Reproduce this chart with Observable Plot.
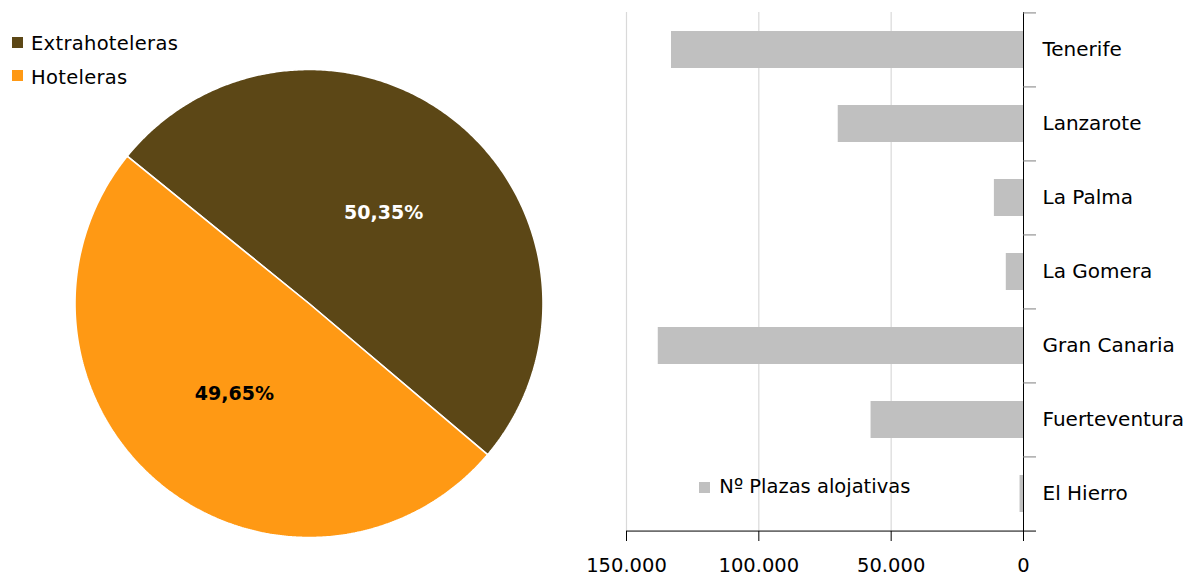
<!DOCTYPE html>
<html><head><meta charset="utf-8">
<script src="https://cdn.jsdelivr.net/npm/d3@7"></script>
<script src="https://cdn.jsdelivr.net/npm/@observablehq/plot@0.6"></script>
<style>
body{margin:0;background:#fff;font-family:"DejaVu Sans",sans-serif;}
#wrap{position:relative;width:1191px;height:576px;overflow:hidden;background:#fff}
.abs{position:absolute;top:0}
.sw{position:absolute;width:11px;height:11px}
.lt{position:absolute;white-space:nowrap;color:#000;font-family:"DejaVu Sans",sans-serif}
</style></head><body>
<div id="wrap">
 <div id="pie" class="abs" style="left:0"></div>
 <div id="bars" class="abs" style="left:560px"></div>
 <div id="legends"></div>
</div>
<script>
// ---- data ----
const pieCategories = ["Extrahoteleras", "Hoteleras"];
const pieValues = [50.35, 49.65];
const pieColors = ["#5C4716", "#FF9914"];

const islands = ["Tenerife", "Lanzarote", "La Palma", "La Gomera", "Gran Canaria", "Fuerteventura", "El Hierro"];
const plazas = [133000, 70000, 11000, 6500, 138000, 57600, 1300];
const barSeries = "Nº Plazas alojativas";
const barColor = "#C0C0C0";
const xTicks = [0, 50000, 100000, 150000];

// ---- pie geometry (unit circle) ----
const startDeg = -51;
const a0 = startDeg * Math.PI / 180;
const arcs = d3.pie().sort(null).startAngle(a0).endAngle(a0 + 2 * Math.PI)(pieValues);
const piePts = [];
arcs.forEach((a, i) => {
  const name = pieCategories[i];
  const n = Math.ceil((a.endAngle - a.startAngle) / (Math.PI / 360));
  piePts.push({name, x: 0, y: 0});
  for (let k = 0; k <= n; k++) {
    const t = a.startAngle + (a.endAngle - a.startAngle) * k / n;
    piePts.push({name, x: Math.sin(t), y: Math.cos(t)});
  }
  piePts.push({name, x: 0, y: 0});
});
const pieLabels = arcs.map((a, i) => {
  const m = (a.startAngle + a.endAngle) / 2;
  return {x: 0.5 * Math.sin(m), y: 0.5 * Math.cos(m),
          text: pieValues[i].toFixed(2).replace(".", ",") + "%", dark: i === 0};
});

const piePlot = Plot.plot({
  width: 560, height: 576,
  marginLeft: 74.5, marginRight: 17.5, marginTop: 69, marginBottom: 39,
  x: {domain: [-1, 1], axis: null},
  y: {domain: [-1, 1], axis: null},
  color: {domain: pieCategories, range: pieColors},
  style: {fontFamily: "DejaVu Sans", background: "transparent"},
  marks: [
    Plot.line(piePts, {x: "x", y: "y", z: "name", fill: "name", stroke: "white", strokeWidth: 1.6, strokeLinejoin: "miter"}),
    Plot.text(pieLabels, {filter: d => d.dark, x: "x", y: "y", text: "text", fill: "white", fontSize: 19, fontWeight: "bold"}),
    Plot.text(pieLabels, {filter: d => !d.dark, x: "x", y: "y", text: "text", fill: "black", fontSize: 19, fontWeight: "bold"})
  ]
});
document.getElementById("pie").appendChild(piePlot);

// ---- bars ----
const barData = islands.map((name, i) => ({name, value: plazas[i]}));
const H = 576, mT = 12, mB = 45;
const step = (H - mT - mB) / islands.length;
const loc = d3.formatLocale({decimal: ",", thousands: ".", grouping: [3], currency: ["", ""]});
const fmt = loc.format(",");

const barPlot = Plot.plot({
  width: 631, height: H,
  marginLeft: 66, marginRight: 168, marginTop: mT, marginBottom: mB,
  x: {domain: [0, 150000], reverse: true, label: null, axis: null},
  y: {domain: islands, paddingInner: 0.5, paddingOuter: 0.25, label: null, axis: null},
  style: {fontFamily: "DejaVu Sans", fontSize: "20px", color: "#000", background: "transparent"},
  marks: [
    Plot.ruleX(xTicks.filter(d => d > 0), {stroke: "#d9d9d9", strokeWidth: 1.2}),
    Plot.barX(barData, {x: "value", y: "name", fill: barColor}),
    Plot.ruleX([0], {stroke: "#000"}),
    Plot.ruleY(islands, {y: d => d, x1: 0, x2: 0, insetRight: -13, dy: -step / 2, stroke: "#7f7f7f"}),
    Plot.ruleY([islands[islands.length - 1]], {y: d => d, dy: step / 2, insetRight: -13, stroke: "#000"}),
    Plot.axisX({ticks: xTicks, tickSize: 10, tickPadding: 17, tickFormat: fmt, fontSize: 19.5, label: null, stroke: "#000"}),
    Plot.axisY({anchor: "right", tickSize: 0, tickPadding: 19, fontSize: 20, label: null, style: {letterSpacing: "0.2px"}})
  ]
});
document.getElementById("bars").appendChild(barPlot);

// ---- legends ----
const leg = document.getElementById("legends");
function addItem(color, label, sx, sy, tx, ty, fs, ls) {
  const s = document.createElement("div");
  s.className = "sw"; s.style.left = sx + "px"; s.style.top = sy + "px"; s.style.background = color;
  leg.appendChild(s);
  const t = document.createElement("div");
  t.className = "lt"; t.textContent = label;
  t.style.left = tx + "px"; t.style.top = ty + "px";
  t.style.fontSize = fs + "px"; t.style.lineHeight = fs + "px";
  t.style.letterSpacing = ls + "px";
  leg.appendChild(t);
}
addItem(pieColors[0], pieCategories[0], 12, 37, 31, 34.2, 19.5, 0.3);
addItem(pieColors[1], pieCategories[1], 12, 70, 31, 67.5, 19.5, 0.3);
addItem(barColor, barSeries, 699, 482, 719.3, 476.8, 19.5, 0);
</script>
</body></html>
